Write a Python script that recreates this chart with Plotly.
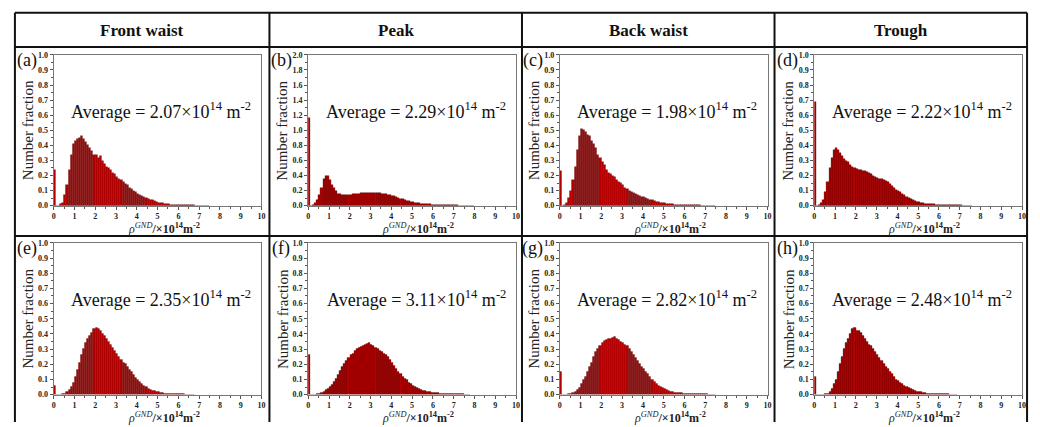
import plotly.graph_objects as go

# ---------------- data (number fraction per 0.1 bin, starting at bin 0-0.1) ----------------
COLUMN_TITLES = ["Front waist", "Peak", "Back waist", "Trough"]
PANEL_LABELS = ["(a)", "(b)", "(c)", "(d)", "(e)", "(f)", "(g)", "(h)"]
AVERAGES = ["2.07", "2.29", "1.98", "2.22", "2.35", "3.11", "2.82", "2.48"]
BIN_WIDTH = 0.1
X_TICKS = [0, 1, 2, 3, 4, 5, 6, 7, 8, 9, 10]

frac_a = [0.24, 0.0, 0.0, 0.01, 0.02, 0.07, 0.14, 0.24, 0.34, 0.41,
          0.43, 0.44, 0.45, 0.46, 0.44, 0.42, 0.40, 0.38, 0.36, 0.34,
          0.34, 0.32, 0.33, 0.30, 0.28, 0.26, 0.25, 0.24, 0.22, 0.21,
          0.19, 0.18, 0.17, 0.155, 0.145, 0.135, 0.12, 0.11, 0.10, 0.09,
          0.08, 0.07, 0.062, 0.055, 0.05, 0.045, 0.04, 0.035, 0.03, 0.025,
          0.02, 0.018, 0.015, 0.013, 0.011, 0.009, 0.008, 0.007, 0.006, 0.005,
          0.005, 0.004, 0.004, 0.003, 0.003, 0.002, 0.002, 0.002, 0.001, 0.001,
          0.001, 0.001, 0.001, 0.001, 0.001]
frac_b = [1.16, 0.0, 0.01, 0.03, 0.07, 0.14, 0.24, 0.36, 0.40, 0.39,
          0.34, 0.28, 0.23, 0.19, 0.16, 0.15, 0.14, 0.14, 0.14, 0.14,
          0.145, 0.15, 0.16, 0.16, 0.16, 0.165, 0.17, 0.17, 0.175, 0.175,
          0.175, 0.175, 0.17, 0.17, 0.165, 0.16, 0.155, 0.15, 0.145, 0.14,
          0.13, 0.125, 0.115, 0.105, 0.095, 0.085, 0.075, 0.068, 0.06, 0.052,
          0.045, 0.04, 0.035, 0.03, 0.027, 0.024, 0.021, 0.019, 0.017, 0.015,
          0.013, 0.012, 0.011, 0.01, 0.009, 0.008, 0.007, 0.006, 0.005, 0.005,
          0.006, 0.004, 0.003, 0.003, 0.002, 0.002, 0.002, 0.001, 0.001, 0.001]
frac_c = [0.23, 0.0, 0.005, 0.02, 0.05, 0.10, 0.17, 0.26, 0.37, 0.46,
          0.51, 0.50, 0.49, 0.47, 0.46, 0.43, 0.41, 0.38, 0.34, 0.32,
          0.29, 0.27, 0.24, 0.22, 0.21, 0.20, 0.19, 0.17, 0.16, 0.15,
          0.14, 0.12, 0.11, 0.10, 0.09, 0.085, 0.075, 0.07, 0.065, 0.06,
          0.055, 0.05, 0.045, 0.04, 0.035, 0.03, 0.027, 0.024, 0.02, 0.017,
          0.015, 0.013, 0.011, 0.01, 0.009, 0.008, 0.007, 0.006, 0.005, 0.005,
          0.006, 0.008, 0.004, 0.003, 0.003, 0.002, 0.002, 0.002, 0.001, 0.001,
          0.001, 0.001, 0.001, 0.001, 0.001]
frac_d = [0.69, 0.0, 0.005, 0.015, 0.04, 0.09, 0.16, 0.25, 0.32, 0.37,
          0.38, 0.37, 0.35, 0.33, 0.31, 0.30, 0.29, 0.27, 0.26, 0.25,
          0.245, 0.24, 0.235, 0.23, 0.23, 0.225, 0.22, 0.21, 0.20, 0.19,
          0.185, 0.18, 0.175, 0.17, 0.165, 0.155, 0.145, 0.13, 0.115, 0.105,
          0.10, 0.09, 0.08, 0.07, 0.06, 0.052, 0.045, 0.038, 0.032, 0.027,
          0.022, 0.019, 0.016, 0.014, 0.012, 0.011, 0.01, 0.009, 0.008, 0.007,
          0.006, 0.005, 0.005, 0.004, 0.004, 0.003, 0.003, 0.002, 0.002, 0.002,
          0.002, 0.001, 0.001, 0.001, 0.001, 0.001]
frac_e = [0.06, 0.0, 0.0, 0.0, 0.002, 0.005, 0.015, 0.03, 0.05, 0.08,
          0.12, 0.16, 0.21, 0.26, 0.30, 0.34, 0.37, 0.39, 0.41, 0.43,
          0.44, 0.43, 0.42, 0.40, 0.39, 0.37, 0.35, 0.33, 0.31, 0.29,
          0.27, 0.25, 0.23, 0.21, 0.20, 0.18, 0.165, 0.15, 0.13, 0.11,
          0.10, 0.085, 0.07, 0.06, 0.05, 0.04, 0.033, 0.027, 0.022, 0.018,
          0.015, 0.012, 0.01, 0.008, 0.007, 0.006, 0.005, 0.004, 0.003, 0.003,
          0.002, 0.002, 0.002, 0.001, 0.001, 0.001, 0.001, 0.001]
frac_f = [0.26, 0.0, 0.0, 0.0, 0.002, 0.005, 0.01, 0.02, 0.03, 0.04,
          0.05, 0.065, 0.085, 0.105, 0.13, 0.155, 0.18, 0.20, 0.22, 0.24,
          0.26, 0.27, 0.285, 0.30, 0.31, 0.315, 0.32, 0.33, 0.335, 0.34,
          0.33, 0.32, 0.31, 0.30, 0.29, 0.28, 0.27, 0.265, 0.25, 0.23,
          0.21, 0.19, 0.17, 0.15, 0.135, 0.12, 0.105, 0.095, 0.08, 0.07,
          0.06, 0.05, 0.042, 0.036, 0.03, 0.026, 0.022, 0.019, 0.016, 0.014,
          0.012, 0.01, 0.009, 0.008, 0.007, 0.006, 0.005, 0.005, 0.004, 0.004,
          0.003, 0.003, 0.002, 0.002, 0.002, 0.001, 0.001, 0.001]
frac_g = [0.15, 0.0, 0.0, 0.0, 0.003, 0.007, 0.012, 0.02, 0.03, 0.045,
          0.07, 0.10, 0.12, 0.15, 0.18, 0.21, 0.25, 0.28, 0.30, 0.32,
          0.34, 0.355, 0.36, 0.365, 0.37, 0.375, 0.38, 0.37, 0.36, 0.35,
          0.34, 0.33, 0.32, 0.30, 0.28, 0.26, 0.24, 0.22, 0.20, 0.185,
          0.17, 0.15, 0.135, 0.12, 0.10, 0.085, 0.07, 0.06, 0.05, 0.042,
          0.035, 0.03, 0.025, 0.02, 0.017, 0.014, 0.012, 0.01, 0.009, 0.008,
          0.007, 0.006, 0.005, 0.005, 0.004, 0.004, 0.003, 0.003, 0.002, 0.002,
          0.002, 0.001, 0.001, 0.001, 0.001]
frac_h = [0.12, 0.0, 0.0, 0.0, 0.0, 0.003, 0.008, 0.02, 0.04, 0.07,
          0.10, 0.15, 0.20, 0.25, 0.30, 0.34, 0.37, 0.40, 0.43, 0.44,
          0.42, 0.42, 0.41, 0.39, 0.37, 0.35, 0.33, 0.32, 0.30, 0.28,
          0.26, 0.24, 0.22, 0.20, 0.185, 0.17, 0.15, 0.135, 0.12, 0.10,
          0.09, 0.08, 0.07, 0.06, 0.05, 0.043, 0.036, 0.03, 0.025, 0.021,
          0.018, 0.015, 0.012, 0.01, 0.008, 0.007, 0.006, 0.005, 0.004, 0.004,
          0.003, 0.003, 0.002, 0.002, 0.002, 0.001, 0.001, 0.001, 0.001]
FRACTIONS = [frac_a, frac_b, frac_c, frac_d, frac_e, frac_f, frac_g, frac_h]
Y_MAX = [1.0, 2.0, 1.0, 1.0, 1.0, 1.0, 1.0, 1.0]
Y_DTICK = [0.1, 0.2, 0.1, 0.1, 0.1, 0.1, 0.1, 0.1]

# ---------------- layout geometry (pixels) ----------------
W, H = 1040, 427
COL_LEFT = [52, 308, 561, 817]
PLOT_W = 209
ROW_TOP = [52, 244]
PLOT_H = [154, 155]
TABLE_X = [13, 269, 523, 777, 1031]
TABLE_Y = [9, 44, 237]
SERIF = "Liberation Serif"
X_TITLE = ("<i>ρ</i><sup><i>GND</i></sup>"
           "<b>/×10</b><sup><b>14</b></sup><b>m</b><sup><b>-2</b></sup>")

def px(x):
    return x / W

def py(y):
    return 1 - y / H

fig = go.Figure()
layout = dict(width=W, height=H, margin=dict(l=0, r=0, t=0, b=0),
              paper_bgcolor="white", plot_bgcolor="white", showlegend=False,
              bargap=0, font=dict(family=SERIF, color="#222"))
annotations = []
shapes = []

for i in range(8):
    row, col = divmod(i, 4)
    n = i + 1
    xa = "x" if n == 1 else f"x{n}"
    ya = "y" if n == 1 else f"y{n}"
    left = COL_LEFT[col]
    top = ROW_TOP[row]
    bottom = top + PLOT_H[row]
    vals = FRACTIONS[i]
    centers = [round(BIN_WIDTH * (k + 0.5), 3) for k in range(len(vals))]
    fig.add_trace(go.Bar(x=centers, y=vals, width=BIN_WIDTH, xaxis=xa, yaxis=ya,
                         marker=dict(color="#b40000", line=dict(color="rgba(50,0,0,0.55)", width=0.5)),
                         hoverinfo="skip"))
    common = dict(showline=True, linecolor="#777", linewidth=1, mirror=True,
                  showgrid=False, zeroline=False, ticks="outside", ticklen=3,
                  tickwidth=1, tickcolor="#555",
                  tickfont=dict(family=SERIF, size=8, color="#222", weight="bold"))
    layout["xaxis" if n == 1 else f"xaxis{n}"] = dict(
        domain=[px(left), px(left + PLOT_W)], anchor=ya, range=[0, 10],
        tickmode="array", tickvals=X_TICKS, ticktext=[str(t) for t in X_TICKS],
        minor=dict(dtick=0.5, tick0=0, ticks="outside", ticklen=2, tickcolor="#555"),
        **common)
    layout["yaxis" if n == 1 else f"yaxis{n}"] = dict(
        domain=[py(bottom), py(top)], anchor=xa, range=[0, Y_MAX[i]],
        dtick=Y_DTICK[i], tick0=0, tickformat=".1f",
        minor=dict(dtick=Y_DTICK[i] / 2, tick0=0, ticks="outside", ticklen=2, tickcolor="#555"),
        **common)
    # panel label
    annotations.append(dict(x=px(left - 27), y=py(top + 6), xref="paper", yref="paper",
                            text=PANEL_LABELS[i], showarrow=False, xanchor="center", yanchor="middle",
                            font=dict(family=SERIF, size=18, color="#111")))
    # y title
    annotations.append(dict(x=px(left - 26), y=py((top + bottom) / 2), xref="paper", yref="paper",
                            text="Number fraction", textangle=-90, showarrow=False,
                            xanchor="center", yanchor="middle",
                            font=dict(family=SERIF, size=15, color="#222")))
    # x title
    annotations.append(dict(x=px(left + PLOT_W * 0.53), y=py(bottom + 14), xref="paper", yref="paper",
                            text=X_TITLE, showarrow=False, xanchor="center", yanchor="top",
                            font=dict(family=SERIF, size=12, color="#222")))
    # average text
    annotations.append(dict(x=px(left + PLOT_W * 0.96), y=py(top + PLOT_H[row] * 0.37),
                            xref="paper", yref="paper",
                            text=f"Average = {AVERAGES[i]}×10<sup>14</sup> m<sup>-2</sup>",
                            showarrow=False, xanchor="right", yanchor="middle",
                            font=dict(family=SERIF, size=18, color="#111")))

# column headers
for c, title in enumerate(COLUMN_TITLES):
    annotations.append(dict(x=px((TABLE_X[c] + TABLE_X[c + 1]) / 2), y=py(27), xref="paper", yref="paper",
                            text=f"<b>{title}</b>", showarrow=False, xanchor="center", yanchor="middle",
                            font=dict(family=SERIF, size=17, color="#111")))

# table lines
for xv in TABLE_X:
    shapes.append(dict(type="line", xref="paper", yref="paper", x0=px(xv), x1=px(xv),
                       y0=py(TABLE_Y[0]), y1=0, line=dict(color="#111", width=2)))
for yv in TABLE_Y:
    shapes.append(dict(type="line", xref="paper", yref="paper", x0=px(TABLE_X[0]), x1=px(TABLE_X[-1]),
                       y0=py(yv), y1=py(yv), line=dict(color="#111", width=2)))

layout["annotations"] = annotations
layout["shapes"] = shapes
fig.update_layout(**layout)
fig.write_html("out.html")
